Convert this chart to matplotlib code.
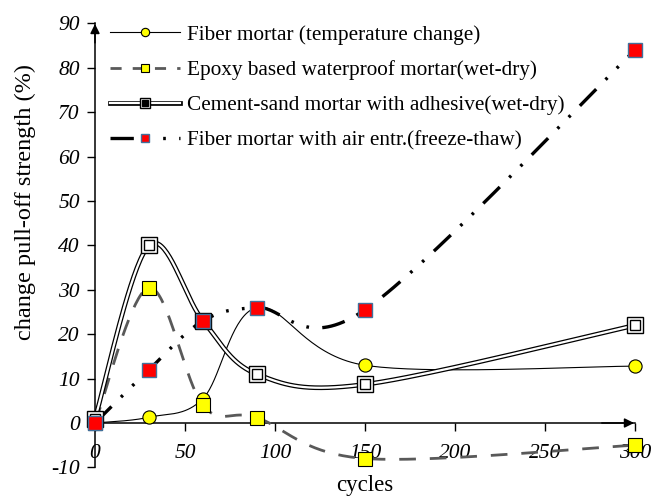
import numpy as np
import matplotlib
matplotlib.use("Agg")
import matplotlib.pyplot as plt
from matplotlib.lines import Line2D

cycles = [0, 30, 60, 90, 150, 300]
fiber_temp = [0, 1.3, 5.5, 26, 13, 12.8]
epoxy_wetdry = [0, 30.5, 4, 1.2, -8, -5]
cement_wetdry = [1, 40, 23, 11, 8.7, 22]
fiber_air_ft = [0, 12, 23, 26, 25.5, 84]

labels = ["Fiber mortar (temperature change)",
          "Epoxy based waterproof mortar(wet-dry)",
          "Cement-sand mortar with adhesive(wet-dry)",
          "Fiber mortar with air entr.(freeze-thaw)"]
xticks = [0, 50, 100, 150, 200, 250, 300]
yticks = list(range(-10, 91, 10))


def smooth(x, y, n=40):
    """Excel-style smoothed line (Catmull-Rom Bezier) through the points."""
    P = np.column_stack([x, y]).astype(float)
    out = [P[0]]
    t = np.linspace(0, 1, n)[1:, None]
    for i in range(len(P) - 1):
        p0 = P[i - 1] if i > 0 else P[i]
        p3 = P[i + 2] if i + 2 < len(P) else P[i + 1]
        b0 = P[i]
        b3 = P[i + 1]
        b1 = b0 + (b3 - p0) / 6.0
        b2 = b3 - (p3 - b0) / 6.0
        seg = ((1 - t) ** 3) * b0 + 3 * ((1 - t) ** 2) * t * b1 + 3 * (1 - t) * t ** 2 * b2 + t ** 3 * b3
        out.extend(seg)
    out = np.array(out)
    return out[:, 0], out[:, 1]


plt.rcParams['font.family'] = ['Liberation Serif', 'DejaVu Serif']
plt.rcParams['axes.unicode_minus'] = False

fig = plt.figure(figsize=(6.53, 4.98), dpi=100)
ax = fig.add_axes([95 / 653, 1 - 467.4 / 498, 540 / 653, (467.4 - 23.4) / 498])
ax.set_xlim(0, 300)
ax.set_ylim(-10, 90)

yellow = '#FFFF00'
red = '#FF0000'
blue_edge = '#41719C'

# Fiber mortar (temperature change)
sx, sy = smooth(cycles, fiber_temp)
ax.plot(sx, sy, color='black', lw=0.8, zorder=3, clip_on=False)
ax.plot(cycles, fiber_temp, ls='none', marker='o', ms=9.5, mfc=yellow, mec='black', mew=0.8,
        zorder=6, clip_on=False)

# Epoxy (wet-dry)
sx, sy = smooth(cycles, epoxy_wetdry)
ax.plot(sx, sy, color='#595959', lw=2.0, dashes=(6, 5), zorder=3, clip_on=False)
ax.plot(cycles, epoxy_wetdry, ls='none', marker='s', ms=9.5, mfc=yellow, mec='black', mew=0.8,
        zorder=6, clip_on=False)

# Cement-sand (wet-dry) - double line
sx, sy = smooth(cycles, cement_wetdry)
ax.plot(sx, sy, color='black', lw=3.4, zorder=4, clip_on=False)
ax.plot(sx, sy, color='white', lw=1.6, zorder=4.1, clip_on=False)
ax.plot(cycles, cement_wetdry, ls='none', marker='s', ms=11, mfc='white', mec='black', mew=1.0,
        zorder=6, clip_on=False)
ax.plot(cycles, cement_wetdry, ls='none', marker='s', ms=6.5, mfc='white', mec='black', mew=1.0,
        zorder=6.1, clip_on=False)

# Fiber mortar with air entr. (freeze-thaw)
sx, sy = smooth(cycles, fiber_air_ft)
ax.plot(sx, sy, color='black', lw=2.4, dashes=(7, 4, 0.8, 4, 0.8, 4), zorder=3.5, clip_on=False)
ax.plot(cycles, fiber_air_ft, ls='none', marker='s', ms=9.5, mfc=red, mec=blue_edge, mew=1.0,
        zorder=7, clip_on=False)

# axes styling
for s in ['top', 'right']:
    ax.spines[s].set_visible(False)
ax.spines['bottom'].set_position(('data', 0))
ax.spines['left'].set_linewidth(1.1)
ax.spines['bottom'].set_linewidth(1.1)
ax.set_xticks(xticks)
ax.set_yticks(yticks)
ax.tick_params(axis='both', direction='out', length=6, width=1.0, labelsize=15.5)
ax.tick_params(axis='x', pad=9)
ax.tick_params(axis='y', pad=5)
for lab in ax.get_xticklabels() + ax.get_yticklabels():
    lab.set_fontstyle('italic')

ax.annotate('', xy=(301, 0), xytext=(280, 0),
            arrowprops=dict(arrowstyle='-|>', lw=1.1, color='black', mutation_scale=14),
            annotation_clip=False)
ax.annotate('', xy=(0, 90.5), xytext=(0, 85),
            arrowprops=dict(arrowstyle='-|>', lw=1.1, color='black', mutation_scale=14),
            annotation_clip=False)

ax.set_xlabel('cycles', fontsize=16.5)
ax.xaxis.set_label_coords(0.5, -0.016)
ax.set_ylabel('change pull-off strength (%)', fontsize=17.5)
ax.yaxis.set_label_coords(-0.109, 0.598)

# legend
h1 = Line2D([], [], color='black', lw=0.8, marker='o', ms=6, mfc=yellow, mec='black', mew=0.8)
h2 = Line2D([], [], color='#595959', lw=2.0, dashes=(4, 4), marker='s', ms=6, mfc=yellow, mec='black', mew=0.8)
h3a = Line2D([], [], color='black', lw=3.4)
h3b = Line2D([], [], color='white', lw=1.6, marker='s', ms=7, mfc='white', mec='black', mew=1.0)
h3c = Line2D([], [], ls='none', marker='s', ms=4, mfc='black', mec='black')
h4 = Line2D([], [], color='black', lw=2.4, dashes=(7, 4, 0.8, 4, 0.8, 4), marker='s', ms=6,
            mfc=red, mec=blue_edge, mew=1.0)
leg = ax.legend([h1, h2, (h3a, h3b, h3c), h4], labels, loc='upper left',
                bbox_to_anchor=(0.028, 0.997), frameon=False, fontsize=15.3,
                handlelength=3.3, handletextpad=0.3, labelspacing=0.73, borderpad=0,
                borderaxespad=0)

fig.savefig('out.png', dpi=100)
